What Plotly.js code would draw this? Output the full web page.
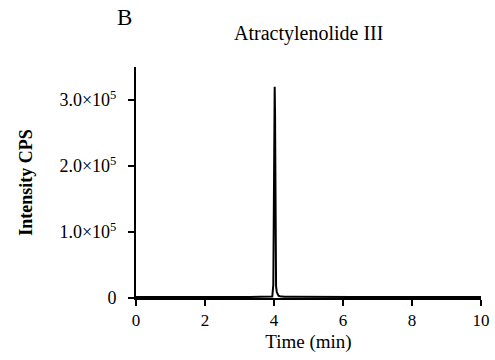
<!DOCTYPE html>
<html>
<head>
<meta charset="utf-8">
<script src="https://cdn.plot.ly/plotly-3.0.1.min.js"></script>
<style>html,body{margin:0;padding:0;background:#fff;}#chart{width:495px;height:360px;}</style>
</head>
<body>
<div id="chart"></div>
<script>
var timeMin = [0, 0.3, 0.6, 0.9, 1.2, 1.5, 1.8, 2.1, 2.4, 2.7, 3.0, 3.3, 3.6, 3.8, 3.9, 3.95, 3.98, 4.0, 4.01, 4.02, 4.03, 4.04, 4.05, 4.06, 4.08, 4.1, 4.13, 4.17, 4.22, 4.3, 4.5, 4.8, 5.1, 5.4, 5.7, 6.0, 6.3, 6.6, 6.9, 7.2, 7.5, 7.8, 8.1, 8.4, 8.7, 9.0, 9.3, 9.6, 10.0];
var intensity = [1500, 1800, 1400, 1700, 1500, 1900, 1600, 1500, 1800, 1700, 1900, 1700, 1800, 1900, 2000, 2200, 20000, 180000, 300000, 320000, 280000, 120000, 40000, 18000, 9000, 5500, 3500, 2600, 2200, 2000, 1800, 1600, 1700, 1500, 1600, 1400, 1500, 1700, 1500, 1400, 1600, 1500, 1400, 1600, 1500, 1700, 1900, 1600, 1500];
var yTickVals = [0, 100000, 200000, 300000];
var yTickText = ['0', '1.0\u00d710<sup>5</sup>', '2.0\u00d710<sup>5</sup>', '3.0\u00d710<sup>5</sup>'];
var xTickVals = [0, 2, 4, 6, 8, 10];
var xTickText = ['0', '2', '4', '6', '8', '10'];

var serif = 'Liberation Serif';
var data = [{
  x: timeMin, y: intensity, type: 'scatter', mode: 'lines',
  line: {color: '#000', width: 2}, hoverinfo: 'none'
}];
var layout = {
  width: 495, height: 360,
  margin: {l: 136, r: 14, t: 67, b: 62},
  paper_bgcolor: '#fff', plot_bgcolor: '#fff',
  showlegend: false,
  font: {family: serif, size: 17, color: '#000'},
  xaxis: {
    range: [0, 10], tickmode: 'array', tickvals: xTickVals, ticktext: xTickText,
    ticks: 'outside', ticklen: 6, tickwidth: 2, tickcolor: '#000',
    showline: true, linewidth: 2, linecolor: '#000', showgrid: false, zeroline: false,
    tickfont: {family: serif, size: 17, color: '#000'},
    title: {text: 'Time (min)', font: {family: serif, size: 19, color: '#000'}, standoff: 5}
  },
  yaxis: {
    range: [0, 350000], tickmode: 'array', tickvals: yTickVals, ticktext: yTickText,
    ticks: 'outside', ticklen: 6, tickwidth: 2, tickcolor: '#000', ticklabelstandoff: 8,
    showline: true, linewidth: 2, linecolor: '#000', showgrid: false, zeroline: false,
    tickfont: {family: serif, size: 18, color: '#000'},
    title: {text: '<b>Intensity CPS</b>', font: {family: serif, size: 18, color: '#000'}, standoff: 22}
  },
  annotations: [
    {text: 'B', xref: 'paper', yref: 'paper', x: -0.032, y: 1.216, xanchor: 'center', yanchor: 'middle', showarrow: false, font: {family: serif, size: 23, color: '#000'}},
    {text: 'Atractylenolide III', xref: 'paper', yref: 'paper', x: 0.5, y: 1.143, xanchor: 'center', yanchor: 'middle', showarrow: false, font: {family: serif, size: 20, color: '#000'}}
  ]
};
Plotly.newPlot('chart', data, layout, {displayModeBar: false, staticPlot: true});
</script>
</body>
</html>
